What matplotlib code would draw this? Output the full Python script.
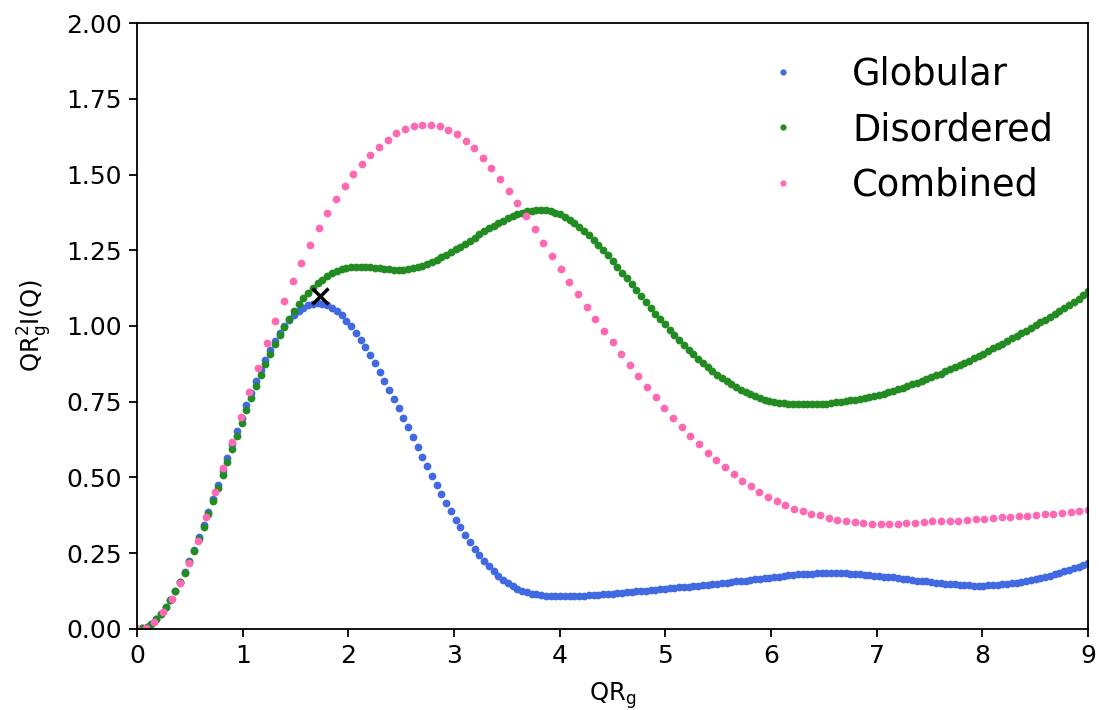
import numpy as np
import matplotlib
matplotlib.use("Agg")
import matplotlib.pyplot as plt

# Dimensionless Kratky profiles, QRg on x, (QRg)^2 I(Q)/I(0) on y
globular_y = [
    0.000, 0.002, 0.008, 0.018, 0.032, 0.050, 0.072, 0.097, 0.124, 0.155,
    0.188, 0.224, 0.262, 0.302, 0.343, 0.386, 0.430, 0.475, 0.520, 0.565,
    0.610, 0.654, 0.697, 0.739, 0.779, 0.818, 0.855, 0.889, 0.921, 0.950,
    0.976, 0.999, 1.019, 1.036, 1.050, 1.061, 1.069, 1.074, 1.075, 1.073,
    1.068, 1.060, 1.049, 1.035, 1.018, 0.999, 0.978, 0.955, 0.930, 0.904,
    0.877, 0.849, 0.820, 0.790, 0.759, 0.728, 0.697, 0.665, 0.633, 0.601,
    0.569, 0.537, 0.506, 0.475, 0.445, 0.416, 0.388, 0.361, 0.335, 0.310,
    0.287, 0.265, 0.244, 0.225, 0.207, 0.191, 0.176, 0.163, 0.151, 0.141,
    0.133, 0.126, 0.121, 0.117, 0.114, 0.112, 0.110, 0.109, 0.108, 0.108,
    0.108, 0.108, 0.109, 0.109, 0.110, 0.111, 0.112, 0.113, 0.114, 0.115,
    0.117, 0.118, 0.120, 0.121, 0.123, 0.124, 0.126, 0.127, 0.129, 0.130,
    0.132, 0.133, 0.134, 0.136, 0.137, 0.139, 0.140, 0.142, 0.143, 0.145,
    0.146, 0.148, 0.150, 0.151, 0.153, 0.155, 0.157, 0.158, 0.160, 0.162,
    0.164, 0.166, 0.167, 0.169, 0.171, 0.173, 0.175, 0.177, 0.178, 0.180,
    0.181, 0.182, 0.183, 0.184, 0.185, 0.185, 0.185, 0.185, 0.184, 0.184,
    0.183, 0.182, 0.180, 0.179, 0.178, 0.176, 0.175, 0.173, 0.171, 0.170,
    0.168, 0.166, 0.164, 0.162, 0.160, 0.158, 0.157, 0.155, 0.153, 0.151,
    0.150, 0.148, 0.147, 0.146, 0.145, 0.144, 0.143, 0.143, 0.143, 0.144,
    0.145, 0.146, 0.147, 0.149, 0.151, 0.153, 0.155, 0.158, 0.161, 0.164,
    0.168, 0.172, 0.176, 0.180, 0.185, 0.190, 0.195, 0.200, 0.206, 0.212,
    0.218,
]

disordered_y = [
    0.000, 0.002, 0.008, 0.018, 0.032, 0.050, 0.071, 0.096, 0.124, 0.154,
    0.186, 0.221, 0.259, 0.297, 0.337, 0.379, 0.422, 0.464, 0.507, 0.551,
    0.594, 0.637, 0.681, 0.722, 0.762, 0.801, 0.838, 0.873, 0.907, 0.939,
    0.969, 0.997, 1.024, 1.048, 1.071, 1.091, 1.110, 1.126, 1.141, 1.153,
    1.164, 1.174, 1.181, 1.187, 1.191, 1.194, 1.196, 1.196, 1.196, 1.195,
    1.193, 1.191, 1.189, 1.187, 1.186, 1.185, 1.186, 1.187, 1.190, 1.194,
    1.199, 1.205, 1.212, 1.219, 1.227, 1.235, 1.244, 1.253, 1.262, 1.272,
    1.282, 1.292, 1.302, 1.312, 1.322, 1.331, 1.340, 1.348, 1.356, 1.363,
    1.369, 1.374, 1.378, 1.381, 1.383, 1.383, 1.382, 1.379, 1.374, 1.368,
    1.360, 1.350, 1.339, 1.327, 1.314, 1.300, 1.285, 1.268, 1.251, 1.233,
    1.214, 1.195, 1.176, 1.157, 1.137, 1.118, 1.098, 1.079, 1.060, 1.041,
    1.023, 1.005, 0.987, 0.970, 0.953, 0.937, 0.921, 0.906, 0.891, 0.877,
    0.864, 0.851, 0.839, 0.828, 0.817, 0.807, 0.798, 0.789, 0.781, 0.774,
    0.768, 0.762, 0.757, 0.753, 0.750, 0.747, 0.745, 0.743, 0.742, 0.741,
    0.741, 0.741, 0.741, 0.742, 0.743, 0.744, 0.746, 0.748, 0.750, 0.752,
    0.755, 0.757, 0.760, 0.763, 0.766, 0.769, 0.773, 0.777, 0.782, 0.787,
    0.791, 0.796, 0.802, 0.808, 0.813, 0.819, 0.825, 0.831, 0.837, 0.843,
    0.850, 0.857, 0.864, 0.871, 0.878, 0.886, 0.893, 0.901, 0.909, 0.917,
    0.926, 0.934, 0.942, 0.950, 0.959, 0.967, 0.976, 0.984, 0.994, 1.002,
    1.012, 1.021, 1.030, 1.039, 1.049, 1.059, 1.069, 1.079, 1.090, 1.102,
    1.114,
]

combined_y = [
    0.000, 0.003, 0.022, 0.055, 0.098, 0.153, 0.219, 0.290, 0.371, 0.451,
    0.532, 0.616, 0.700, 0.783, 0.863, 0.943, 1.017, 1.083, 1.147, 1.209,
    1.267, 1.322, 1.373, 1.420, 1.463, 1.502, 1.536, 1.566, 1.592, 1.614,
    1.636, 1.650, 1.661, 1.665, 1.665, 1.661, 1.648, 1.634, 1.612, 1.586,
    1.555, 1.520, 1.484, 1.445, 1.407, 1.363, 1.320, 1.273, 1.232, 1.187,
    1.146, 1.105, 1.064, 1.024, 0.985, 0.947, 0.909, 0.872, 0.836, 0.800,
    0.765, 0.731, 0.698, 0.667, 0.637, 0.609, 0.582, 0.557, 0.533, 0.511,
    0.490, 0.471, 0.453, 0.437, 0.422, 0.409, 0.397, 0.388, 0.381, 0.375,
    0.367, 0.361, 0.356, 0.352, 0.350, 0.348, 0.347, 0.347, 0.348, 0.349,
    0.351, 0.353, 0.355, 0.356, 0.357, 0.358, 0.360, 0.362, 0.364, 0.366,
    0.368, 0.370, 0.372, 0.374, 0.376, 0.378, 0.380, 0.382, 0.385, 0.388,
    0.392,
]

qrg_max = 9.0
globular_x = np.linspace(0, qrg_max, len(globular_y))
disordered_x = np.linspace(0, qrg_max, len(disordered_y))
combined_x = np.linspace(0, qrg_max, len(combined_y))

# Guinier peak position for a compact particle: (sqrt(3), 3/e)
peak_x, peak_y = 1.73, 1.10

series = [
    ("Globular", globular_x, globular_y, "royalblue"),
    ("Disordered", disordered_x, disordered_y, "forestgreen"),
    ("Combined", combined_x, combined_y, "hotpink"),
]

fig = plt.figure(figsize=(10.99, 7.10), dpi=100)
ax = fig.add_axes([0.1247, 0.1141, 0.8653, 0.8535])

for name, xs, ys, color in series:
    ax.plot(xs, ys, linestyle="none", marker="o", markersize=5.6,
            markeredgewidth=0, color=color, label=name)

ax.plot([peak_x], [peak_y], linestyle="none", marker="x", markersize=12,
        markeredgewidth=2.5, color="black")

ax.set_xlim(0, 9)
ax.set_ylim(0, 2)
ax.set_xticks(range(0, 10))
ax.set_yticks(np.arange(0, 2.01, 0.25))
ax.yaxis.set_major_formatter(matplotlib.ticker.FormatStrFormatter("%.2f"))
ax.tick_params(labelsize=18, length=6, width=1.3, pad=5)
for spine in ax.spines.values():
    spine.set_linewidth(1.3)

ax.set_xlabel("QR$_\\mathregular{g}$", fontsize=17.5, labelpad=9)
ax.set_ylabel("QR$_\\mathregular{g}^2$I(Q)", fontsize=17.5, labelpad=9)

ax.legend(loc="upper right", bbox_to_anchor=(0.979, 0.970), borderaxespad=0,
          frameon=False, fontsize=26.5, handletextpad=0.87, markerscale=0.8,
          labelspacing=0.5)

fig.savefig("out.png", dpi=100)
